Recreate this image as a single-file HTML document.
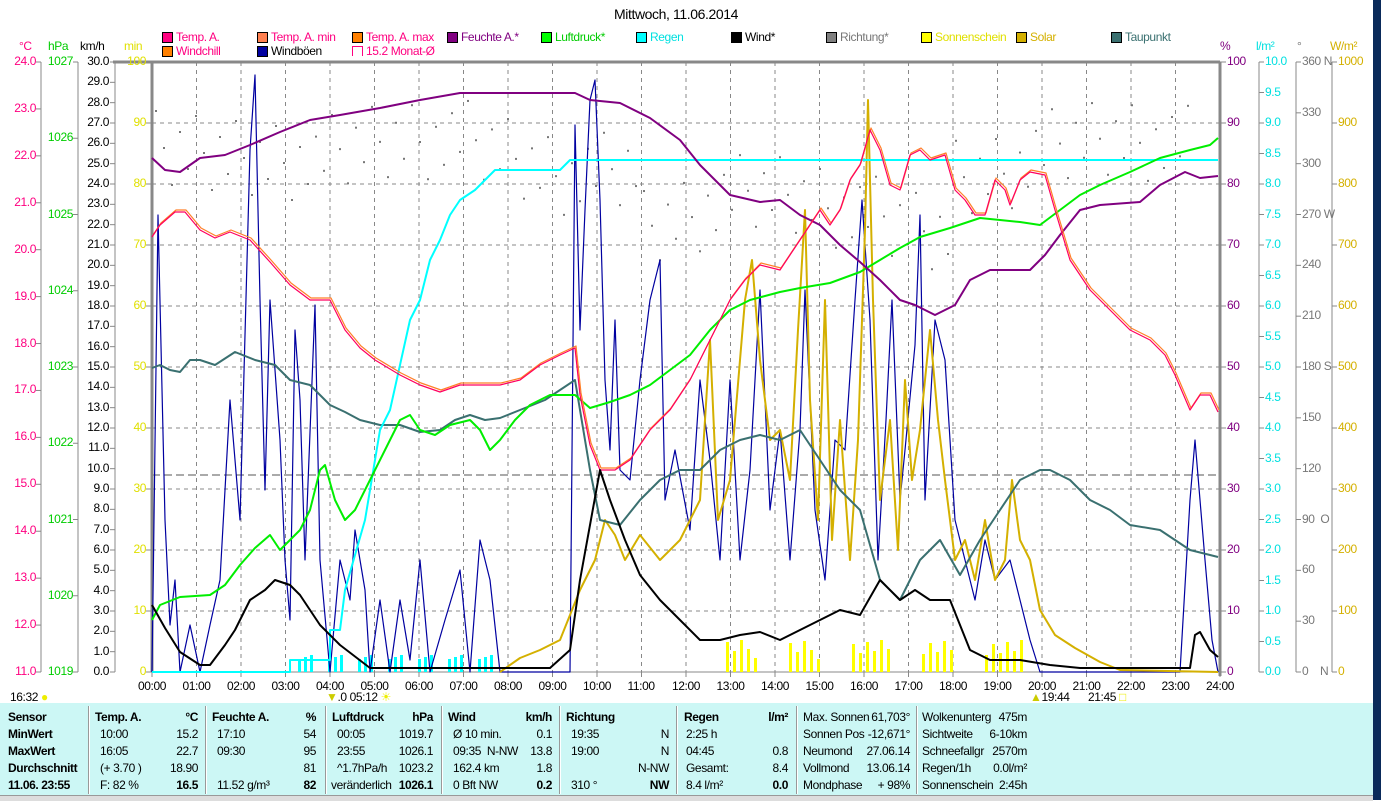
<!DOCTYPE html>
<html><head><meta charset="utf-8"><style>
body{margin:0;width:1381px;height:800px;background:#fff;position:relative;overflow:hidden;font-family:"Liberation Sans",sans-serif;font-size:12px;letter-spacing:-0.4px;}
.t{position:absolute;white-space:nowrap;line-height:13px;}
.r{text-align:right;}
#tbl{position:absolute;left:0;top:703px;width:1373px;height:92px;background:#ccf7f5;}
.b{font-weight:bold;}
.sep{position:absolute;top:706px;height:88px;width:1px;background:#999;border-right:1px solid #fff;}
.lg{position:absolute;width:9px;height:9px;border:1px solid #000;}
</style></head><body>
<div class="t" style="left:614px;top:8px;font-size:14px;">Mittwoch, 11.06.2014</div>
<div id="legend"></div>
<svg id="s" width="1381" height="800" style="position:absolute;left:0;top:0"></svg>
<div id="labels"></div>
<div style="position:absolute;left:1373px;top:0;width:8px;height:800px;background:#0a2a5a"></div>
<div style="position:absolute;left:0;top:795px;width:1373px;height:5px;background:#ddd;border-top:1px solid #999"></div>
<div id="tbl"></div>
<div id="tt"></div>
<script>
const S=document.getElementById('s');let svg='';
const X0=152,X1=1220,Y0=62,Y1=672;const hx=(X1-X0)/24;
for(let i=1;i<24;i++){const x=X0+hx*i;svg+=`<line x1="${x}" y1="${Y0}" x2="${x}" y2="${Y1}" stroke="#888" stroke-dasharray="4,4"/>`;}
for(let i=1;i<10;i++){const y=Y0+61*i;svg+=`<line x1="${X0}" y1="${y}" x2="${X1}" y2="${y}" stroke="#888" stroke-dasharray="4,4"/>`;}
svg+=`<line x1="${X0}" y1="475" x2="${X1}" y2="475" stroke="#555" stroke-dasharray="8,4"/>`;
svg+=`<line x1="113" y1="62" x2="${X1}" y2="62" stroke="#888" stroke-width="3"/>`;
svg+=`<line x1="${X0}" y1="62" x2="${X0}" y2="${Y1}" stroke="#888" stroke-width="3"/>`;
svg+=`<line x1="${X1}" y1="62" x2="${X1}" y2="${Y1+4}" stroke="#888" stroke-width="3"/>`;
svg+=`<line x1="${X0}" y1="${Y1}" x2="${X1}" y2="${Y1}" stroke="#888" stroke-width="1"/>`;
let L='';
function axis(lx,vals,col,fmt,labx,align){
 svg+=`<line x1="${lx}" y1="${Y0}" x2="${lx}" y2="${Y1}" stroke="#888"/>`;
 vals.forEach((v,i)=>{const y=Y0+(Y1-Y0)*i/(vals.length-1);
  svg+=`<line x1="${lx-5}" y1="${y}" x2="${lx}" y2="${y}" stroke="#888"/>`;
  L+=`<div class="t r" style="right:${1381-labx}px;top:${y-7}px;color:${col}">${v}</div>`;
 });
}
let a=[];for(let v=24;v>=11;v--)a.push(v.toFixed(1));axis(41,a,'#ff0080','',36,'r');
a=[];for(let v=1027;v>=1019;v--)a.push(v);axis(78,a,'#00cc00','',73,'r');
a=[];for(let v=30;v>=0;v--)a.push(v.toFixed(1));axis(115,a,'#000','',109,'r');
a=[];for(let v=100;v>=0;v-=10)a.push(v);
a.forEach((v,i)=>{const y=Y0+61*i;L+=`<div class="t r" style="right:${1381-146}px;top:${y-7}px;color:#e0e000">${v}</div>`;svg+=`<line x1="146" y1="${y}" x2="${X0}" y2="${y}" stroke="#888"/>`;});
a.forEach((v,i)=>{const y=Y0+61*i;L+=`<div class="t" style="left:1227px;top:${y-7}px;color:#800080">${v}</div>`;svg+=`<line x1="${X1}" y1="${y}" x2="1226" y2="${y}" stroke="#888"/>`;});
a=[];for(let v=10;v>=0;v-=0.5)a.push(v.toFixed(1));
svg+=`<line x1="1259" y1="${Y0}" x2="1259" y2="${Y1}" stroke="#888"/>`;
a.forEach((v,i)=>{const y=Y0+30.5*i;svg+=`<line x1="1259" y1="${y}" x2="1264" y2="${y}" stroke="#888"/>`;L+=`<div class="t" style="left:1265px;top:${y-7}px;color:#00e0e0">${v}</div>`;});
svg+=`<line x1="1296" y1="${Y0}" x2="1296" y2="${Y1}" stroke="#888"/>`;
const dl={360:'360 N',270:'270 W',180:'180 S',90:'90 &nbsp;O',0:'0 &nbsp;&nbsp;&nbsp;N'};
for(let i=0;i<=12;i++){const v=360-30*i;const y=Y0+(Y1-Y0)*i/12;svg+=`<line x1="1296" y1="${y}" x2="1301" y2="${y}" stroke="#888"/>`;L+=`<div class="t" style="left:1302px;top:${y-7}px;color:#777">${dl[v]||v}</div>`;}
svg+=`<line x1="1332" y1="${Y0}" x2="1332" y2="${Y1}" stroke="#888"/>`;
for(let i=0;i<=10;i++){const v=1000-100*i;const y=Y0+61*i;svg+=`<line x1="1332" y1="${y}" x2="1337" y2="${y}" stroke="#888"/>`;L+=`<div class="t" style="left:1338px;top:${y-7}px;color:#d4b000">${v}</div>`;}
[['°C',19,'#ff0080'],['hPa',48,'#00cc00'],['km/h',80,'#000'],['min',124,'#e0e000'],['%',1220,'#800080'],['l/m²',1256,'#00e0e0'],['°',1297,'#777'],['W/m²',1330,'#d4b000']].forEach(u=>L+=`<div class="t" style="left:${u[1]}px;top:40px;color:${u[2]}">${u[0]}</div>`);
for(let i=0;i<=24;i++){L+=`<div class="t" style="left:${X0+hx*i-14}px;top:680px">${String(i).padStart(2,'0')}:00</div>`;svg+=`<line x1="${X0+hx*i}" y1="${Y1}" x2="${X0+hx*i}" y2="${Y1+5}" stroke="#888"/>`;}
L+=`<div class="t" style="left:10px;top:691px">16:32 <span style="color:#ee0">●</span></div>`;
L+=`<div class="t" style="left:326px;top:691px"><span style="color:#cc0">▼</span>.0 05:12 <span style="color:#ee0">☀</span></div>`;
L+=`<div class="t" style="left:1030px;top:691px"><span style="color:#cc0">▲</span>19:44</div><div class="t" style="left:1088px;top:691px">21:45 <span style="color:#ee0">□</span></div>`;
document.getElementById('labels').innerHTML=L;
function pl(p,c,w){svg+=`<polyline points="${p}" fill="none" stroke="${c}" stroke-width="${w}" stroke-linejoin="round"/>`;}
for(let x=712;x<1040;x+=7){if(Math.sin(x*1.7)>-0.2)svg+=`<rect x="${x}" y="${640+((x*7)%20)}" width="3" height="${32-((x*7)%20)}" fill="#ffff00"/>`;}
for(let x=292;x<500;x+=6){if(Math.sin(x*2.3)>-0.3)svg+=`<rect x="${x}" y="${655+((x*3)%10)}" width="3" height="${17-((x*3)%10)}" fill="#00ffff"/>`;}
let dots='';for(let i=0;i<130;i++){const x=155+i*8;const y=110+((i*37)%90)+ (i>60&&i<100?60:0)+(i<20?0:20)*Math.sin(i/7);dots+=`<rect x="${x}" y="${y}" width="2" height="2" fill="#777"/>`;}svg+=dots;
pl("152,672 158,215 165,520 170,625 175,580 180,672 190,625 200,672 210,625 220,580 230,400 240,520 250,150 255,75 260,300 265,490 270,300 280,440 285,560 290,620 295,330 300,400 305,560 315,305 320,560 330,672 340,560 350,600 355,530 365,590 370,672 380,600 390,672 400,600 410,660 420,560 430,672 445,620 460,570 470,672 480,540 490,580 500,672 570,672 575,125 580,330 585,210 590,100 595,80 600,200 605,380 610,450 615,320 620,470 630,480 640,380 650,300 660,260 665,500 675,450 690,530 700,380 710,460 720,560 730,380 740,560 750,470 760,290 770,510 780,430 790,560 800,430 805,290 815,510 825,580 835,440 845,450 855,300 862,200 870,320 878,560 886,420 892,300 900,500 905,450 915,345 920,215 925,500 935,320 945,360 955,520 965,560 975,600 985,540 995,580 1010,560 1020,600 1030,640 1040,672 1180,672 1190,500 1195,440 1205,560 1212,640 1218,672","#0000a0",1.2);
pl("500,672 520,658 540,650 560,640 570,615 580,590 595,560 605,520 615,535 625,560 640,535 660,560 680,540 700,500 710,340 718,520 730,480 745,300 752,260 760,360 770,440 780,430 790,480 798,330 805,210 810,400 818,520 825,300 832,540 840,420 850,560 858,440 865,230 868,100 873,300 880,500 890,420 898,550 905,380 912,480 920,430 930,330 938,420 945,480 955,560 965,540 975,580 985,520 995,580 1005,560 1012,480 1020,540 1030,560 1040,610 1055,635 1075,648 1100,662 1120,670 1218,672","#d4b000",2);
pl("152,368 160,365 170,370 180,372 190,360 200,360 215,365 235,352 255,360 275,365 290,380 310,385 330,405 345,412 360,420 380,425 400,425 420,432 440,430 455,420 470,415 485,420 500,418 520,410 545,400 560,390 575,380 590,470 600,520 620,525 640,500 660,480 680,470 700,470 720,450 740,440 760,435 780,440 800,430 820,460 840,490 860,510 880,580 900,600 920,560 940,540 960,575 980,540 1000,510 1020,480 1040,470 1050,470 1070,480 1090,500 1110,510 1130,525 1160,530 1190,550 1218,557","#3a7070",2);
pl("152,672 290,672 290,660 330,660 330,630 340,630 345,590 365,520 380,430 390,410 410,320 420,300 430,260 440,240 450,215 460,200 475,190 490,175 495,170 560,170 570,160 1218,160","#00ffff",2);
pl("152,620 160,605 180,597 210,595 225,585 240,565 255,548 270,535 280,550 300,530 310,510 320,470 325,465 335,500 345,520 355,510 370,480 385,450 400,420 410,415 420,430 435,435 450,425 470,420 480,430 490,450 500,440 515,420 530,405 550,395 575,395 590,408 610,402 630,395 650,385 670,370 690,355 710,330 730,310 750,300 780,292 800,288 830,283 860,272 880,260 900,248 920,237 950,228 980,218 1000,220 1020,222 1040,225 1060,210 1080,195 1100,185 1130,172 1160,158 1190,150 1210,145 1218,138","#00ee00",2);
pl("152,158 165,170 180,172 200,158 225,155 250,145 280,132 310,120 340,115 380,108 420,100 460,93 500,93 540,93 575,93 590,100 620,103 650,118 680,140 700,165 730,195 760,202 780,200 800,215 820,225 840,245 860,262 880,280 900,300 915,305 935,315 955,305 970,280 990,270 1010,270 1030,270 1045,255 1060,235 1080,210 1100,205 1140,202 1160,185 1185,172 1200,178 1218,176","#800080",2);
const tp="152,237 160,225 175,212 185,212 200,230 215,238 230,232 250,240 270,262 290,285 310,300 330,300 345,330 360,348 375,360 400,375 420,385 440,392 460,385 480,385 500,385 520,380 540,365 560,355 575,348 580,395 590,445 600,470 615,470 630,460 650,430 670,410 690,380 700,360 710,340 720,320 730,300 745,280 760,265 780,270 790,255 800,240 810,225 820,210 830,225 840,210 850,180 860,165 870,130 880,150 890,185 900,190 910,155 920,150 930,160 945,155 955,190 965,200 975,215 985,215 995,180 1005,190 1010,205 1020,180 1030,172 1045,175 1055,210 1070,260 1090,290 1110,310 1130,330 1150,340 1165,355 1175,375 1190,410 1200,395 1210,395 1218,412";
svg+=`<g transform="translate(1,-2)">`;pl(tp,"#ff7f27",1.2);svg+=`</g>`;pl(tp,"#ff0060",1.2);
pl("152,605 165,628 180,652 200,665 210,665 225,645 235,630 250,600 265,590 275,580 290,585 300,595 320,625 340,645 370,668 380,668 550,668 570,650 580,580 600,470 610,500 625,540 640,575 660,600 680,620 700,640 720,640 740,635 760,632 780,640 800,630 820,620 840,610 860,615 880,580 900,600 915,590 930,600 950,600 970,650 990,660 1020,660 1050,665 1080,668 1190,668 1195,635 1200,632 1210,650 1218,657","#000",2);
S.innerHTML=svg;
let G='';const r1=31,r2=45;
[[162,r1,'#ff0080','#ff0080','Temp. A.'],[257,r1,'#ff8050','#ff0080','Temp. A. min'],[352,r1,'#ff8000','#ff0080','Temp. A. max'],[447,r1,'#800080','#800080','Feuchte A.*'],[541,r1,'#00ff00','#00cc00','Luftdruck*'],[636,r1,'#00ffff','#00e0e0','Regen'],[731,r1,'#000','#000','Wind*'],[826,r1,'#808080','#777','Richtung*'],[921,r1,'#ffff00','#e0e000','Sonnenschein'],[1016,r1,'#d4b000','#d4b000','Solar'],[1111,r1,'#3a7070','#3a7070','Taupunkt'],[162,r2,'#ff8000','#ff0080','Windchill'],[257,r2,'#0000a0','#000','Windböen']].forEach(l=>{G+=`<div class="lg" style="left:${l[0]}px;top:${l[1]+1}px;background:${l[2]}"></div><div class="t" style="left:${l[0]+14}px;top:${l[1]}px;color:${l[3]}">${l[4]}</div>`;});
G+=`<div class="lg" style="left:352px;top:${r2+1}px;border-color:#ff0080;border-bottom:none;background:#fff"></div><div class="t" style="left:366px;top:${r2}px;color:#ff0080">15.2 Monat-Ø</div>`;
document.getElementById('legend').innerHTML=G;
let T='';const rows=[717,734,751,768,785];
function c(x,r,txt,cls,right){T+=`<div class="t ${cls||''}${right?' r':''}" style="${right?'right:'+(1381-x):'left:'+x}px;top:${rows[r]-6}px">${txt}</div>`;}
['Sensor','MinWert','MaxWert','Durchschnitt','11.06. 23:55'].forEach((t,i)=>c(8,i,t,'b'));
c(95,0,'Temp. A.','b');c(198,0,'°C','b',1);[['10:00','15.2'],['16:05','22.7'],['(+ 3.70 )','18.90'],['F: 82 %','<b>16.5</b>']].forEach((r,i)=>{c(100,i+1,r[0]);c(198,i+1,r[1],'',1);});
c(212,0,'Feuchte A.','b');c(316,0,'%','b',1);[['17:10','54'],['09:30','95'],['','81'],['11.52 g/m³','<b>82</b>']].forEach((r,i)=>{c(217,i+1,r[0]);c(316,i+1,r[1],'',1);});
c(332,0,'Luftdruck','b');c(433,0,'hPa','b',1);[['00:05','1019.7'],['23:55','1026.1'],['^1.7hPa/h','1023.2'],['veränderlich','<b>1026.1</b>']].forEach((r,i)=>{c(i==3?331:337,i+1,r[0]);c(433,i+1,r[1],'',1);});
c(448,0,'Wind','b');c(552,0,'km/h','b',1);[['Ø 10 min.','0.1'],['09:35 &nbsp;N-NW','13.8'],['162.4 km','1.8'],['0 Bft NW','<b>0.2</b>']].forEach((r,i)=>{c(453,i+1,r[0]);c(552,i+1,r[1],'',1);});
c(566,0,'Richtung','b');[['19:35','N'],['19:00','N'],['','N-NW'],['310 °','<b>NW</b>']].forEach((r,i)=>{c(571,i+1,r[0]);c(669,i+1,r[1],'',1);});
c(684,0,'Regen','b');c(788,0,'l/m²','b',1);[['2:25 h',''],['04:45','0.8'],['Gesamt:','8.4'],['8.4 l/m²','<b>0.0</b>']].forEach((r,i)=>{c(686,i+1,r[0]);c(788,i+1,r[1],'',1);});
[['Max. Sonnen','61,703°'],['Sonnen Pos','-12,671°'],['Neumond','27.06.14'],['Vollmond','13.06.14'],['Mondphase','+ 98%']].forEach((r,i)=>{c(803,i,r[0]);c(910,i,r[1],'',1);});
[['Wolkenunterg','475m'],['Sichtweite','6-10km'],['Schneefallgr','2570m'],['Regen/1h','0.0l/m²'],['Sonnenschein','2:45h']].forEach((r,i)=>{c(922,i,r[0]);c(1027,i,r[1],'',1);});
[88,205,325,441,559,676,796,916].forEach(x=>T+=`<div class="sep" style="left:${x}px"></div>`);
document.getElementById('tt').innerHTML=T;
</script>
</body></html>
